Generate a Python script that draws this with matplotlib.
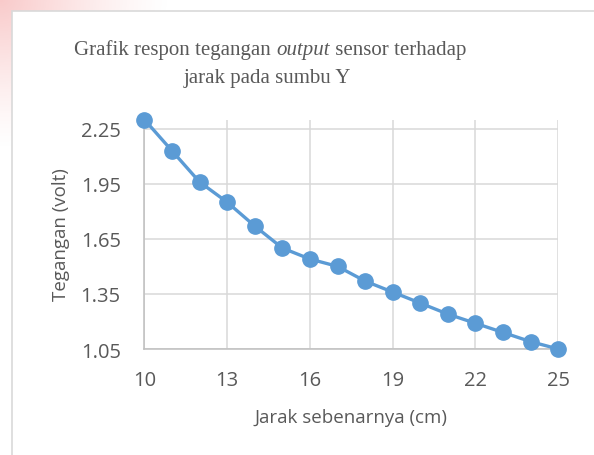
import matplotlib
matplotlib.use("Agg")
import matplotlib.pyplot as plt
import numpy as np
from matplotlib.patches import Rectangle

# Data
jarak = [10, 11, 12, 13, 14, 15, 16, 17, 18, 19, 20, 21, 22, 23, 24, 25]
tegangan = [2.30, 2.13, 1.96, 1.85, 1.72, 1.60, 1.54, 1.50, 1.42, 1.36, 1.30, 1.24, 1.19, 1.14, 1.09, 1.05]
x_ticks = [10, 13, 16, 19, 22, 25]
y_ticks = [1.05, 1.35, 1.65, 1.95, 2.25]
y_tick_labels = ["1.05", "1.35", "1.65", "1.95", "2.25"]
title_parts = ["Grafik respon tegangan ", "output", " sensor terhadap"]
title_line2 = "jarak pada sumbu Y"
xlabel = "Jarak sebenarnya (cm)"
ylabel = "Tegangan (volt)"

W, H = 594, 456
fig = plt.figure(figsize=(W / 100, H / 100), dpi=100)
fig.patch.set_facecolor("white")

# faint pink glow outside the frame, top-left (decoration)
bg = fig.add_axes([0, 0, 1, 1], zorder=0)
bg.set_axis_off()
yy, xx = np.mgrid[0:H, 0:W]
d = np.sqrt((xx / 170.0) ** 2 + (yy / 150.0) ** 2)
alpha = np.clip(1 - d, 0, 1) ** 1.3 * 0.55
img = np.zeros((H, W, 4))
img[..., 0] = 0.96
img[..., 1] = 0.62
img[..., 2] = 0.62
img[..., 3] = alpha
bg.imshow(img, extent=[0, W, H, 0], aspect="auto", interpolation="bilinear")
bg.set_xlim(0, W)
bg.set_ylim(H, 0)
bg.add_patch(Rectangle((12, 12), W, H, facecolor="white", edgecolor="#d9d9d9",
                       linewidth=1.2, zorder=2))

ax = fig.add_axes([144.3 / W, 1 - 350 / H, (558.3 - 144.3) / W, (350 - 120.5) / H], zorder=2)
ax.patch.set_alpha(0)

ax.plot(jarak, tegangan, color="#5B9BD5", linewidth=2.4, marker="o", markersize=11,
        markerfacecolor="#5B9BD5", markeredgecolor="#5B9BD5", clip_on=False, zorder=3)

ax.set_xlim(10, 25)
ax.set_ylim(1.05, 2.30)
ax.set_xticks(x_ticks)
ax.set_yticks(y_ticks)
ax.set_yticklabels(y_tick_labels)
ax.grid(True, color="#d9d9d9", linewidth=1.1)
ax.set_axisbelow(True)
for s in ["top", "right"]:
    ax.spines[s].set_visible(False)
for s in ["left", "bottom"]:
    ax.spines[s].set_color("#bfbfbf")
    ax.spines[s].set_linewidth(1.1)
ax.tick_params(axis="x", length=0, pad=15, labelsize=14.5, labelcolor="#595959")
ax.tick_params(axis="y", length=0, pad=17, labelsize=14.5, labelcolor="#595959")
for lab in ax.get_xticklabels() + ax.get_yticklabels():
    lab.set_fontfamily("Open Sans")

fig.text(351 / W, 1 - 418 / H, xlabel, ha="center", va="center", fontsize=13.5,
         color="#595959", family="Open Sans")
fig.text(61 / W, 1 - 235 / H, ylabel, ha="center", va="center", rotation=90,
         fontsize=13.5, color="#595959", family="Open Sans")

# title with italic word
fig.canvas.draw()
r = fig.canvas.get_renderer()
styles = ["normal", "italic", "normal"]
texts = []
for part, st in zip(title_parts, styles):
    t = fig.text(0, 1 - 55 / H, part, ha="left", va="baseline", fontsize=15,
                 color="#595959", family="Liberation Serif", style=st, zorder=5)
    texts.append(t)
widths = [t.get_window_extent(r).width for t in texts]
total = sum(widths)
x0 = 270 - total / 2
for t, w in zip(texts, widths):
    t.set_x(x0 / W)
    x0 += w
fig.text(267 / W, 1 - 83 / H, title_line2, ha="center", va="baseline", fontsize=15,
         color="#595959", family="Liberation Serif", zorder=5)

fig.savefig("out.png", dpi=100)
